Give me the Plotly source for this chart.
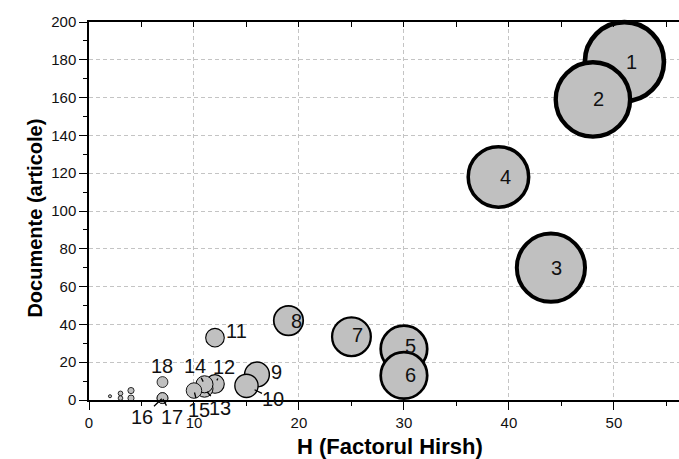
import plotly.graph_objects as go

# ---- data ----
labels = ["1", "2", "3", "4", "5", "6", "7", "8", "9", "10",
          "11", "12", "13", "14", "15", "16", "17", "18",
          "", "", "", "", ""]
h_index = [51, 48, 44, 39, 30, 30, 25, 19, 16, 15,
           12, 12, 11, 11, 10, 7, 7, 7,
           2, 3, 3, 4, 4]
documents = [179, 159, 70, 118, 27, 13, 33.5, 42, 13.5, 7.5,
             33, 8.5, 6, 8.3, 5, 1, 1, 9.5,
             2, 3.5, 1, 5, 1]
x_ticks = [0, 10, 20, 30, 40, 50]
y_ticks = [0, 20, 40, 60, 80, 100, 120, 140, 160, 180, 200]

FONT = "Liberation Sans, Arial, sans-serif"

# bubble size mapped from H (sizes ~ H); outline width grows with size
line_w = [max(0.8, h / 11.0) for h in h_index]

fig = go.Figure()
fig.add_trace(go.Scatter(
    x=h_index, y=documents, mode="markers",
    marker=dict(size=h_index, sizemode="diameter", sizeref=1 / 1.55,
                color="#c0c0c0", opacity=1,
                line=dict(color="black", width=line_w)),
    cliponaxis=False, showlegend=False, hoverinfo="skip",
))
# dummy trace for the top frame axis
fig.add_trace(go.Scatter(x=[None], y=[None], xaxis="x2", showlegend=False,
                         hoverinfo="skip"))

annots = []
# labels drawn inside the big bubbles
inside = {"1": (7, 0), "2": (6, 0), "3": (6, 0), "4": (7, 0),
          "5": (7, 3), "6": (7, 0), "7": (6, 2), "8": (8, 0)}
# labels outside, no leader line: pixel offsets
outside = {"9": (20, 2), "11": (22, 7), "18": (0, 16)}
# labels with leader lines: (ax, ay, standoff)
arrows = {"10": (27, 13, 9), "12": (9, -17, 4), "13": (16, 19, 4),
          "14": (-9, -18, 3), "15": (5, 19, 2), "16": (-20, 19, 1),
          "17": (10, 19, 1)}

for lab, xv, yv in zip(labels, h_index, documents):
    if not lab:
        continue
    base = dict(x=xv, y=yv, text=lab,
                font=dict(family=FONT, size=20, color="#111111"))
    if lab in inside:
        dx, dy = inside[lab]
        annots.append(dict(**base, showarrow=False, xshift=dx, yshift=dy))
    elif lab in outside:
        dx, dy = outside[lab]
        annots.append(dict(**base, showarrow=False, xshift=dx, yshift=dy))
    elif lab in arrows:
        ax, ay, so = arrows[lab]
        annots.append(dict(**base, showarrow=True, arrowhead=0,
                           arrowwidth=1.3, arrowcolor="black",
                           ax=ax, ay=ay, standoff=so, borderpad=0))

annots.append(dict(text="<b>H (Factorul Hirsh)</b>", xref="paper", yref="paper",
                   x=0.51, y=-0.124, xanchor="center", yanchor="middle",
                   showarrow=False, font=dict(family=FONT, size=22, color="black")))
annots.append(dict(text="<b>Documente (articole)</b>", xref="paper", yref="paper",
                   x=-0.0915, y=0.48, xanchor="center", yanchor="middle",
                   textangle=-90, showarrow=False,
                   font=dict(family=FONT, size=20, color="black")))

axis_common = dict(showline=True, linecolor="black", linewidth=1.5,
                   zeroline=False, ticks="outside", ticklen=8, tickwidth=1.3,
                   tickcolor="black",
                   tickfont=dict(family=FONT, size=15, color="#111111"),
                   showgrid=True, gridcolor="#c4c4c4", gridwidth=1,
                   griddash="4px,3px")

fig.update_layout(
    width=679, height=459,
    margin=dict(l=89, r=0, t=22, b=59),
    paper_bgcolor="white", plot_bgcolor="white",
    showlegend=False,
    annotations=annots,
    xaxis=dict(**axis_common, range=[0, 56.2], tickvals=x_ticks,
               minor=dict(dtick=5, ticks="outside", ticklen=4,
                          tickcolor="black", tickwidth=1.3, showgrid=False)),
    xaxis2=dict(overlaying="x", side="top", range=[0, 56.2], showline=True,
                linecolor="black", linewidth=1.5, ticks="inside", ticklen=5,
                tickwidth=1.3, tickcolor="black", dtick=5, tick0=0,
                showticklabels=False, showgrid=False, zeroline=False),
    yaxis=dict(**axis_common, range=[0, 200], tickvals=y_ticks,
               minor=dict(dtick=10, ticks="outside", ticklen=4,
                          tickcolor="black", tickwidth=1.3, showgrid=False)),
)

fig.write_html("out.html",
               config={"displayModeBar": False},
               post_script="document.body.style.margin='0';"
                           "document.body.style.overflow='hidden';")
